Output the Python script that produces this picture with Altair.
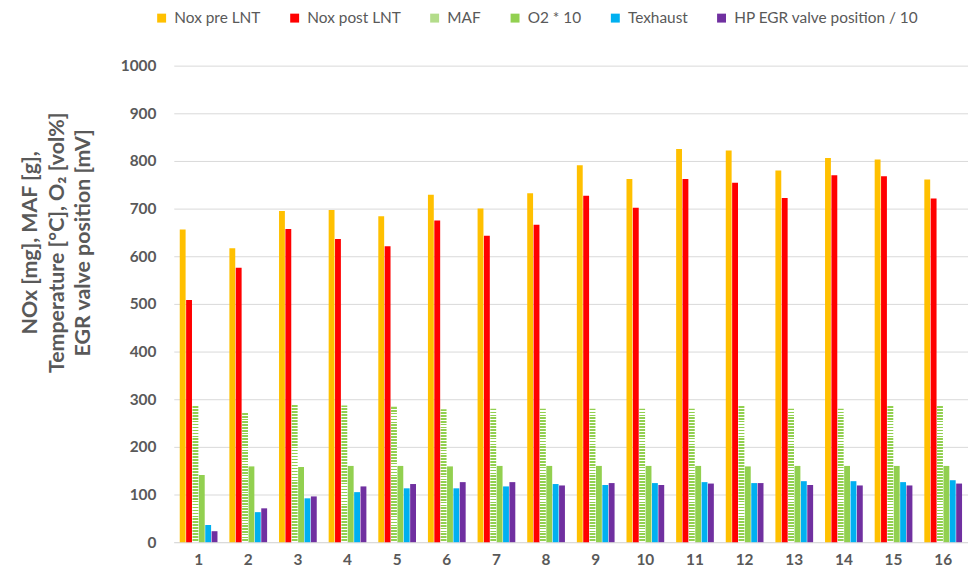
import altair as alt
import pandas as pd

runs = [str(i) for i in range(1, 17)]
series_names = ["Nox pre LNT", "Nox post LNT", "MAF", "O2 * 10", "Texhaust",
                "HP EGR valve position / 10"]
series_colors = ["#FFC000", "#FF0000", "#B3DC8A", "#92D050", "#00B0F0", "#7030A0"]

nox_pre = [656, 617, 695, 697, 684, 729, 700, 732, 791, 762, 825, 822, 780, 806, 803, 761]
nox_post = [508, 576, 657, 636, 621, 675, 643, 666, 727, 702, 762, 754, 722, 770, 768, 721]
maf = [286, 271, 288, 287, 284, 279, 280, 280, 280, 280, 280, 286, 280, 280, 286, 286]
o2_x10 = [141, 159, 158, 160, 160, 159, 160, 160, 160, 160, 160, 159, 160, 160, 160, 160]
texhaust = [36, 63, 92, 105, 113, 113, 117, 122, 120, 124, 126, 124, 128, 128, 126, 130]
hp_egr = [23, 71, 96, 117, 122, 126, 126, 119, 124, 120, 123, 124, 120, 119, 119, 123]

y_ticks = list(range(0, 1001, 100))
y_title = ["NOx [mg],  MAF [g],", "Temperature [°C], O₂ [vol%]", "EGR valve position [mV]"]

rows = []
for name, vals in zip(series_names, [nox_pre, nox_post, maf, o2_x10, texhaust, hp_egr]):
    for r, v in zip(runs, vals):
        rows.append({"run": r, "series": name, "value": v})
df = pd.DataFrame(rows)

# horizontal hatch for the MAF bars, built as a striped gradient
n_stripes = 46
stops = []
for i in range(n_stripes):
    a = i / n_stripes
    b = (i + 0.6) / n_stripes
    c = (i + 1) / n_stripes
    stops += [{"offset": a, "color": "#92D050"}, {"offset": b, "color": "#92D050"},
              {"offset": b, "color": "#FFFFFF"}, {"offset": c, "color": "#FFFFFF"}]
hatch = {"gradient": "linear", "x1": 0, "y1": 0, "x2": 0, "y2": 1, "stops": stops}

FONT = "Lato"
GREY = "#595959"

chart = alt.Chart(df).mark_bar().encode(
    x=alt.X("run:N", sort=runs,
            scale=alt.Scale(paddingInner=0.24, paddingOuter=0.12),
            axis=alt.Axis(title=None, labelAngle=0, ticks=False, grid=False,
                          domainColor="#D9D9D9", labelFontWeight="bold",
                          labelFontSize=15.5, labelColor=GREY, labelPadding=10)),
    xOffset=alt.XOffset("series:N", sort=series_names,
                        scale=alt.Scale(domain=series_names, paddingInner=0.08)),
    y=alt.Y("value:Q", scale=alt.Scale(domain=[0, 1000]),
            axis=alt.Axis(values=y_ticks, format="d", title=y_title, ticks=False,
                          domain=False, gridColor="#D9D9D9", labelFontWeight="bold",
                          labelFontSize=15.5, labelColor=GREY, labelPadding=18,
                          titleFontSize=21.5, titleFontWeight="bold", titleColor=GREY,
                          titleX=-144, titleY=178, titleAlign="center",
                          titleBaseline="middle", titleLineHeight=26.5)),
    color=alt.condition(
        "datum.series === 'MAF'",
        alt.value(hatch),
        alt.Color("series:N",
                  scale=alt.Scale(domain=series_names, range=series_colors),
                  legend=alt.Legend(title=None, orient="none", direction="horizontal",
                                    columns=6, legendX=-20, legendY=-56, padding=0,
                                    symbolType="square", symbolSize=81,
                                    symbolStrokeWidth=0, labelFontSize=15.5,
                                    labelLimit=0, labelColor=GREY, labelOffset=5,
                                    columnPadding=26)),
    ),
).properties(
    width=800, height=480,
    autosize=alt.AutoSizeParams(type="none"),
    padding={"left": 167, "top": 56, "right": 0, "bottom": 30},
).configure(font=FONT).configure_view(stroke=None)

chart.save("out.html", embed_options={"renderer": "svg", "actions": False})
